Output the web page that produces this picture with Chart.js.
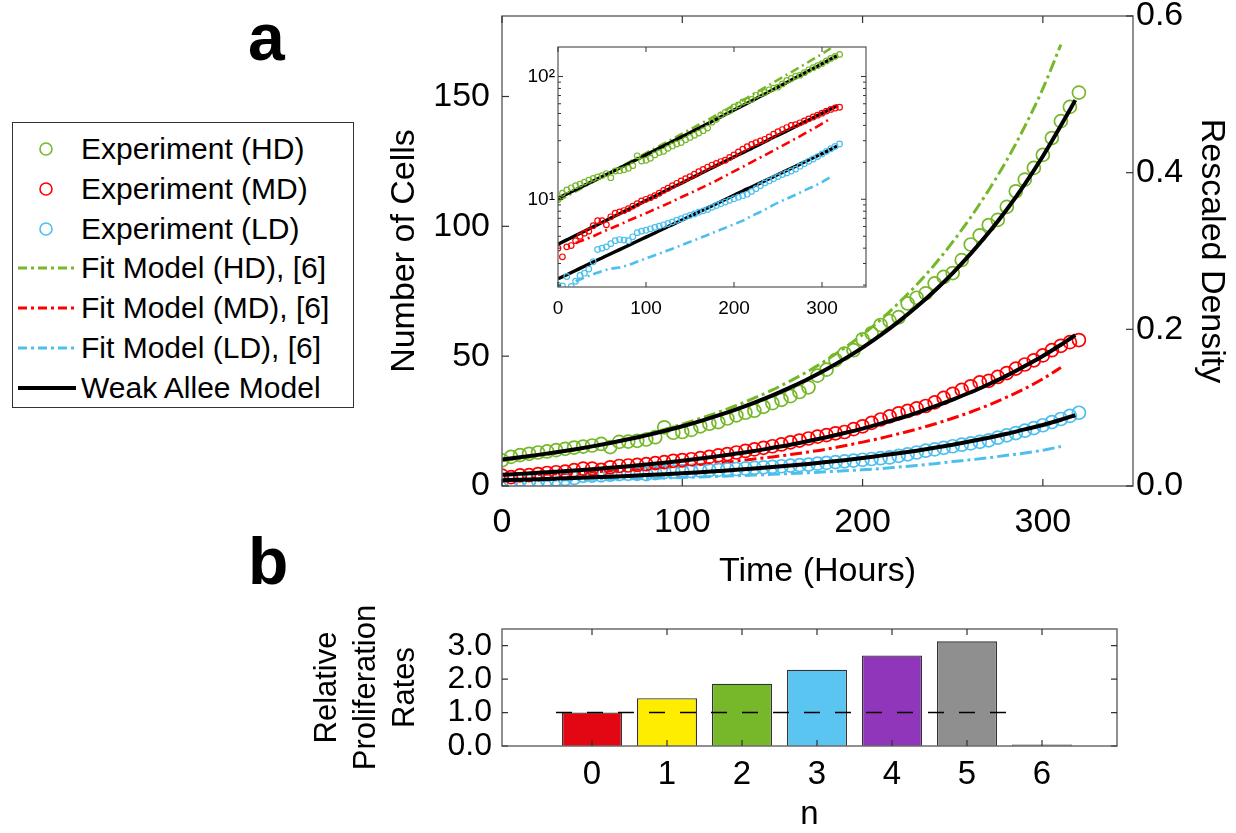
<!DOCTYPE html>
<html>
<head>
<meta charset="utf-8">
<script src="https://cdn.jsdelivr.net/npm/chart.js@4.4.1/dist/chart.umd.min.js"></script>
<style>
  html, body { margin: 0; padding: 0; background: #fff; }
  #page { position: relative; width: 1236px; height: 833px; overflow: hidden;
          font-family: Arial, "Liberation Sans", Helvetica, sans-serif; color: #000; }
  canvas { position: absolute; }
  .tag { position: absolute; font-weight: bold; font-size: 66px; line-height: 66px; }
  #legend { position: absolute; left: 12px; top: 122px; width: 340px; height: 284px;
            border: 1.5px solid #333; background: #fff; }
  .row { position: absolute; left: 0; width: 340px; height: 40px; }
  .row svg { position: absolute; left: 3px; top: 10px; }
  .row span { position: absolute; left: 68px; top: 0; font-size: 30px; line-height: 40px; white-space: nowrap; }
</style>
</head>
<body>
<div id="page">
  <div class="tag" style="left:248px; top:4px;">a</div>
  <div class="tag" style="left:248px; top:528px;">b</div>
  <div id="legend"></div>
  <canvas id="mainChart" width="856" height="595" style="left:380px; top:0px;"></canvas>
  <canvas id="insetChart" width="352" height="285" style="left:520px; top:40px;"></canvas>
  <canvas id="rateChart" width="936" height="233" style="left:300px; top:600px;"></canvas>
</div>
<script>
// ---- data ----
const expTimes = [0, 5, 10, 15, 20, 25, 30, 35, 40, 45, 50, 55, 60, 65, 70, 75, 80, 85, 90, 95,
  100, 105, 110, 115, 120, 125, 130, 135, 140, 145, 150, 155, 160, 165, 170, 175, 180, 185, 190, 195,
  200, 205, 210, 215, 220, 225, 230, 235, 240, 245, 250, 255, 260, 265, 270, 275, 280, 285, 290, 295,
  300, 305, 310, 315, 320];
const expHD = [9.9, 11.2, 11.9, 12.4, 12.9, 13.3, 13.8, 14.3, 14.8, 15.2, 15.6, 16.2, 15.0, 17.0, 17.1, 17.4, 17.9, 18.8, 22.6, 20.5,
  20.8, 21.6, 23.0, 24.0, 24.6, 26.0, 27.2, 28.2, 29.0, 30.5, 31.9, 33.2, 34.6, 36.2, 38.0, 42.5, 44.8, 48.5, 51.0, 52.3,
  56.5, 58.8, 62.0, 63.6, 65.0, 70.3, 72.5, 74.2, 78.0, 80.5, 82.0, 87.0, 93.0, 96.5, 100.5, 102.5, 107.5, 113.5, 118.0, 122.5,
  127.5, 134.0, 140.5, 146.0, 151.5];
const expMD = [4.0, 3.4, 4.1, 4.2, 4.6, 5.0, 5.3, 5.5, 6.1, 6.7, 6.7, 6.2, 7.2, 7.7, 7.9, 8.1, 8.4, 8.8, 9.2, 9.7,
  10.0, 10.3, 10.7, 11.2, 11.8, 12.3, 12.9, 13.5, 14.1, 14.7, 15.3, 16.0, 16.8, 17.5, 18.3, 19.0, 19.6, 20.3, 20.8, 21.9,
  23.0, 24.3, 25.6, 26.8, 28.0, 28.9, 29.9, 30.8, 32.2, 33.9, 35.5, 37.0, 38.4, 39.9, 40.5, 42.0, 43.5, 45.2, 46.8, 48.4,
  50.3, 52.3, 54.0, 55.4, 56.2];
const expLD = [2.0, 1.97, 2.35, 1.95, 2.15, 2.4, 2.5, 2.7, 3.1, 3.9, 4.0, 4.1, 4.35, 4.6, 4.7, 4.65, 4.6, 4.95, 5.35, 5.5,
  5.6, 5.75, 5.9, 6.05, 6.2, 6.35, 6.55, 6.75, 6.95, 7.2, 7.4, 7.6, 7.85, 8.05, 8.25, 8.6, 8.9, 9.2, 9.5, 9.8,
  10.1, 10.4, 10.7, 11.0, 11.6, 12.2, 12.9, 13.6, 14.1, 14.7, 15.3, 15.9, 16.4, 17.0, 17.6, 18.6, 19.5, 20.4, 21.3, 22.3,
  23.4, 24.6, 25.8, 27.0, 28.2];

const fitTimes = [0, 10, 20, 30, 40, 50, 60, 70, 80, 90, 100, 110, 120, 130, 140, 150,
  160, 170, 180, 190, 200, 210, 220, 230, 240, 250, 260, 270, 280, 290, 300, 310];
const fitHD = [9.7, 10.6, 11.6, 12.7, 13.9, 15.2, 16.6, 18.2, 19.9, 21.8, 23.8, 26.0, 28.4, 31.0, 33.9, 37.0,
  40.5, 44.3, 48.5, 53.2, 58.3, 64.0, 70.5, 77.5, 85.3, 94.0, 103.5, 114.0, 125.5, 138.5, 153.0, 170.0];
const fitMD = [null, null, 4.4, 4.7, 5.0, 5.4, 5.8, 6.2, 6.7, 7.2, 7.7, 8.3, 8.9, 9.6, 10.4, 11.2,
  12.1, 13.1, 14.2, 15.5, 16.9, 18.4, 20.1, 21.9, 23.9, 26.1, 28.5, 31.2, 34.2, 37.5, 41.3, 45.6];
const fitLD = [null, null, 2.15, 2.3, 2.45, 2.6, 2.72, 2.78, 2.92, 3.1, 3.3, 3.5, 3.72, 3.96, 4.22, 4.5,
  4.8, 5.12, 5.47, 5.85, 6.26, 6.7, 7.3, 7.9, 8.6, 9.4, 10.1, 10.9, 11.8, 12.7, 13.8, 15.2];

const modelTimes = [0, 10, 20, 30, 40, 50, 60, 70, 80, 90, 100, 110, 120, 130, 140, 150,
  160, 170, 180, 190, 200, 210, 220, 230, 240, 250, 260, 270, 280, 290, 300, 310, 318];
const alleeHD = [10.2, 11.05, 11.98, 12.98, 14.08, 15.27, 16.56, 17.98, 19.51, 21.19, 23.01, 25.0, 27.17, 29.5, 32.1, 34.9,
  37.98, 41.3, 44.98, 48.96, 53.3, 58.1, 63.3, 69.0, 75.2, 82.0, 89.5, 97.6, 106.5, 116.3, 127.0, 138.8, 148.6];
const alleeMD = [4.3, 4.67, 5.07, 5.5, 5.97, 6.48, 7.03, 7.63, 8.28, 8.99, 9.76, 10.6, 11.5, 12.5, 13.5, 14.7,
  15.9, 17.3, 18.8, 20.4, 22.1, 24.0, 26.0, 28.2, 30.7, 33.3, 36.1, 39.2, 42.5, 46.2, 50.1, 54.4, 58.1];
const alleeLD = [2.25, 2.43, 2.63, 2.85, 3.08, 3.33, 3.6, 3.89, 4.21, 4.55, 4.92, 5.32, 5.76, 6.22, 6.73, 7.28,
  7.87, 8.51, 9.21, 9.96, 10.8, 11.7, 12.6, 13.6, 14.7, 15.9, 17.2, 18.6, 20.1, 21.8, 23.5, 25.5, 27.3];

const timeTicks = [0, 100, 200, 300];
const cellTicks = [0, 50, 100, 150];
const densityTicks = [0, 0.2, 0.4, 0.6];
const insetTicks = [2, 3, 4, 5, 6, 7, 8, 9, 10, 20, 30, 40, 50, 60, 70, 80, 90, 100];
const insetLabels = { 10: '10\u00b9', 100: '10\u00b2' };

const expNames = ['Experiment (HD)', 'Experiment (MD)', 'Experiment (LD)'];
const fitNames = ['Fit Model (HD), [6]', 'Fit Model (MD), [6]', 'Fit Model (LD), [6]'];
const alleeName = 'Weak Allee Model';
const densColors = ['#76b82a', '#ff0000', '#4dbfee'];

const rateCats = [0, 1, 2, 3, 4, 5, 6];
const rates = [1.0, 1.43, 1.86, 2.28, 2.71, 3.13, 0];
const rateColors = ['#e30613', '#ffed00', '#76b82a', '#5bc5f2', '#9036bb', '#8f8f8f', '#8f8f8f'];
const rateTicks = [0, 1, 2, 3];
const refLevel = 1.0;

Chart.defaults.font.family = 'Arial, "Liberation Sans", Helvetica, sans-serif';
Chart.defaults.color = '#000';

// frame box plus inward MATLAB-style tick marks
const frameTicks = {
  id: 'frameTicks',
  afterDatasetsDraw(chart, args, opts) {
    const { ctx, chartArea: a } = chart;
    const scales = Object.values(chart.scales);
    const hasRight = scales.some(s => !s.isHorizontal() && s.position === 'right');
    ctx.save();
    ctx.strokeStyle = opts.frameColor;
    ctx.lineWidth = opts.frameWidth;
    ctx.strokeRect(a.left, a.top, a.right - a.left, a.bottom - a.top);
    ctx.strokeStyle = opts.tickColor;
    ctx.lineWidth = opts.tickWidth;
    scales.forEach(s => {
      s.ticks.forEach(t => {
        const len = t.label === '' ? opts.minorLen : opts.len;
        const p = s.getPixelForValue(t.value);
        ctx.beginPath();
        if (s.isHorizontal()) {
          ctx.moveTo(p, a.bottom); ctx.lineTo(p, a.bottom - len);
          ctx.moveTo(p, a.top); ctx.lineTo(p, a.top + len);
        } else if (s.position === 'left') {
          ctx.moveTo(a.left, p); ctx.lineTo(a.left + len, p);
          if (!hasRight) { ctx.moveTo(a.right, p); ctx.lineTo(a.right - len, p); }
        } else {
          ctx.moveTo(a.right, p); ctx.lineTo(a.right - len, p);
        }
        ctx.stroke();
      });
    });
    ctx.restore();
  }
};

const pts = (xs, ys) => xs.map((x, i) => ({ x: x, y: ys[i] }));

function growthSets(st) {
  const sets = [];
  [expHD, expMD, expLD].forEach((ys, i) => sets.push({
    label: expNames[i], data: pts(expTimes, ys), showLine: false,
    pointStyle: 'circle', pointRadius: st.radius, pointBorderWidth: st.ring,
    pointBorderColor: densColors[i], pointBackgroundColor: 'rgba(0,0,0,0)', borderColor: densColors[i],
    order: st.expOrder
  }));
  [fitHD, fitMD, fitLD].forEach((ys, i) => sets.push({
    label: fitNames[i], data: pts(fitTimes, ys), borderColor: densColors[i], borderWidth: st.fitWidth,
    borderDash: st.dash, pointRadius: 0, cubicInterpolationMode: 'monotone', order: 3
  }));
  [alleeHD, alleeMD, alleeLD].forEach((ys, i) => sets.push({
    label: i === 0 ? alleeName : '', data: pts(modelTimes, ys), borderColor: '#000', borderWidth: st.modelWidth,
    pointRadius: 0, cubicInterpolationMode: 'monotone', order: st.modelOrder
  }));
  return sets;
}

const noBox = { display: false, drawTicks: false };

// ---- panel a, main axes ----
new Chart(document.getElementById('mainChart'), {
  type: 'line',
  data: { datasets: growthSets({ radius: 6.5, ring: 1.7, fitWidth: 3, dash: [12, 4, 3, 4], modelWidth: 4, expOrder: 1, modelOrder: 0 }) },
  options: {
    responsive: false, animation: false,
    layout: { padding: { top: 16, left: 0, right: 0, bottom: 0 } },
    plugins: {
      legend: { display: false }, tooltip: { enabled: false },
      frameTicks: { frameColor: '#6b6b6b', frameWidth: 1.5, tickColor: '#333', tickWidth: 1.2, len: 7, minorLen: 4 }
    },
    scales: {
      x: {
        type: 'linear', min: 0, max: 350, grid: noBox, border: { display: false },
        afterBuildTicks: s => { s.ticks = timeTicks.map(v => ({ value: v })); },
        afterFit: s => { s.height = 109; s.paddingLeft = 0; s.paddingRight = 0; },
        ticks: { font: { size: 34 }, padding: 16, maxRotation: 0, autoSkip: false },
        title: { display: true, text: 'Time (Hours)', font: { size: 34 }, padding: { top: 0, bottom: 3 } }
      },
      y: {
        type: 'linear', position: 'left', min: 0, max: 181, grid: noBox, border: { display: false },
        afterBuildTicks: s => { s.ticks = cellTicks.map(v => ({ value: v })); },
        afterFit: s => { s.width = 122; s.paddingTop = 0; s.paddingBottom = 0; },
        ticks: { font: { size: 34 }, padding: 12, autoSkip: false },
        title: { display: true, text: 'Number of Cells', font: { size: 34 }, padding: { top: 4, bottom: 0 } }
      },
      y2: {
        type: 'linear', position: 'right', min: 0, max: 0.6, grid: noBox, border: { display: false },
        afterBuildTicks: s => { s.ticks = densityTicks.map(v => ({ value: v })); },
        afterFit: s => { s.width = 103; s.paddingTop = 0; s.paddingBottom = 0; },
        ticks: { font: { size: 34 }, padding: 3, autoSkip: false, callback: v => v.toFixed(1) },
        title: { display: true, text: 'Rescaled Density', font: { size: 34 }, padding: { top: 4, bottom: 0 } }
      }
    }
  },
  plugins: [frameTicks]
});

// ---- panel a, log inset ----
new Chart(document.getElementById('insetChart'), {
  type: 'line',
  data: { datasets: growthSets({ radius: 2.8, ring: 1.2, fitWidth: 2.6, dash: [9, 4, 2, 4], modelWidth: 3.4, expOrder: 0, modelOrder: 1 }) },
  options: {
    responsive: false, animation: false,
    layout: { padding: { top: 7, left: 0, right: 6, bottom: 0 } },
    plugins: {
      legend: { display: false }, tooltip: { enabled: false },
      frameTicks: { frameColor: '#555', frameWidth: 1.2, tickColor: '#333', tickWidth: 1, len: 5, minorLen: 3 }
    },
    scales: {
      x: {
        type: 'linear', min: 0, max: 350, grid: noBox, border: { display: false },
        afterBuildTicks: s => { s.ticks = timeTicks.map(v => ({ value: v })); },
        afterFit: s => { s.height = 38; s.paddingLeft = 0; s.paddingRight = 0; },
        ticks: { font: { size: 19 }, padding: 10, maxRotation: 0, autoSkip: false }
      },
      y: {
        type: 'logarithmic', min: 1.93, max: 174, grid: noBox, border: { display: false },
        afterBuildTicks: s => { s.ticks = insetTicks.map(v => ({ value: v })); },
        afterFit: s => { s.width = 38; s.paddingTop = 0; s.paddingBottom = 0; },
        ticks: { font: { size: 19 }, padding: 3, autoSkip: false, callback: v => insetLabels[v] || '' }
      }
    }
  },
  plugins: [frameTicks]
});

// ---- panel b ----
new Chart(document.getElementById('rateChart'), {
  data: {
    datasets: [
      {
        type: 'bar', data: pts(rateCats, rates), backgroundColor: rateColors,
        borderColor: '#333', borderWidth: 1.3, minBarLength: 1.5,
        categoryPercentage: 1, barPercentage: 0.8, order: 1
      },
      {
        type: 'line', data: [{ x: rateCats[0] - 0.48, y: refLevel }, { x: rateCats[5] + 0.52, y: refLevel }],
        borderColor: '#000', borderWidth: 1.5, borderDash: [16, 15], pointRadius: 0, order: 0
      }
    ]
  },
  options: {
    responsive: false, animation: false,
    layout: { padding: { top: 29, left: 0, right: 119, bottom: 0 } },
    plugins: {
      legend: { display: false }, tooltip: { enabled: false },
      frameTicks: { frameColor: '#6b6b6b', frameWidth: 1.5, tickColor: '#333', tickWidth: 1.2, len: 6, minorLen: 4 }
    },
    scales: {
      x: {
        type: 'linear', min: -1.2, max: 7, offset: false, grid: noBox, border: { display: false },
        afterBuildTicks: s => { s.ticks = rateCats.map(v => ({ value: v })); },
        afterFit: s => { s.height = 87; s.paddingLeft = 0; s.paddingRight = 0; },
        ticks: { font: { size: 33 }, padding: 9, maxRotation: 0, autoSkip: false },
        title: { display: true, text: 'n', font: { size: 33 }, padding: { top: 0, bottom: -2 } }
      },
      y: {
        type: 'linear', min: 0, max: 3.5, grid: noBox, border: { display: false },
        afterBuildTicks: s => { s.ticks = rateTicks.map(v => ({ value: v })); },
        afterFit: s => { s.width = 202; s.paddingTop = 0; s.paddingBottom = 0; },
        ticks: { font: { size: 32 }, padding: 10, autoSkip: false, callback: v => v.toFixed(1) },
        title: {
          display: true, text: ['Relative', 'Proliferation', 'Rates'],
          font: { size: 31, lineHeight: 1.26 }, padding: { top: 8, bottom: 0 }
        }
      }
    }
  },
  plugins: [frameTicks]
});

// ---- legend for panel a ----
const legendBox = document.getElementById('legend');
const legendRows = [];
expNames.forEach((n, i) => legendRows.push({ name: n, color: densColors[i], kind: 'ring' }));
fitNames.forEach((n, i) => legendRows.push({ name: n, color: densColors[i], kind: 'dashdot' }));
legendRows.push({ name: alleeName, color: '#000', kind: 'solid' });
legendRows.forEach((r, i) => {
  const row = document.createElement('div');
  row.className = 'row';
  row.style.top = (6 + i * 39.8) + 'px';
  let mark;
  if (r.kind === 'ring') {
    mark = `<circle cx="30" cy="10" r="6" fill="none" stroke="${r.color}" stroke-width="1.6"/>`;
  } else if (r.kind === 'dashdot') {
    mark = `<line x1="2" y1="10" x2="60" y2="10" stroke="${r.color}" stroke-width="3" stroke-dasharray="9 4 3 4"/>`;
  } else {
    mark = `<line x1="2" y1="10" x2="60" y2="10" stroke="${r.color}" stroke-width="4"/>`;
  }
  row.innerHTML = `<svg width="62" height="20">${mark}</svg><span>${r.name}</span>`;
  legendBox.appendChild(row);
});
</script>
</body>
</html>
